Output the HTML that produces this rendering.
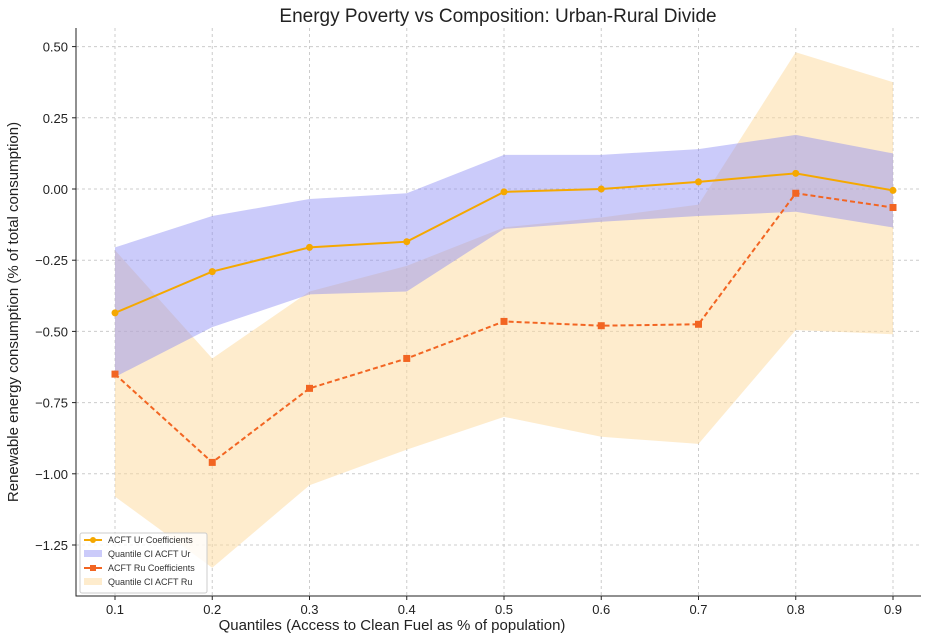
<!DOCTYPE html>
<html><head><meta charset="utf-8"><style>
body{margin:0;background:#fff;font-family:"Liberation Sans","DejaVu Sans",sans-serif}
</style></head><body>
<svg id="chart" width="936" height="637" xmlns="http://www.w3.org/2000/svg">
<text x="498" y="22" text-anchor="middle" font-size="19" fill="#222">Energy Poverty vs Composition: Urban-Rural Divide</text>
<g id="grid"></g><g id="bands"></g><g id="lines"></g><g id="axes"></g>
<text x="392" y="630" text-anchor="middle" font-size="15" fill="#222">Quantiles (Access to Clean Fuel as % of population)</text>
<text transform="translate(18,312) rotate(-90)" text-anchor="middle" font-size="15" fill="#222">Renewable energy consumption (% of total consumption)</text>
<g font-size="9" fill="#333">
<rect x="80" y="533" width="127" height="60" fill="#fff" fill-opacity="0.8" stroke="#ccc" rx="2"/>
<line x1="84" y1="540" x2="102" y2="540" stroke="#f5a800" stroke-width="2"/><circle cx="93" cy="540" r="3" fill="#f5a800"/>
<text x="108" y="543">ACFT Ur Coefficients</text>
<rect x="84" y="550" width="18" height="7" fill="#8c8cf5" fill-opacity="0.45"/>
<text x="108" y="557">Quantile CI ACFT Ur</text>
<line x1="84" y1="568" x2="102" y2="568" stroke="#f26522" stroke-width="2"/><rect x="90" y="565" width="6" height="6" fill="#f26522"/>
<text x="108" y="571">ACFT Ru Coefficients</text>
<rect x="84" y="578" width="18" height="7" fill="#fdd99b" fill-opacity="0.5"/>
<text x="108" y="585">Quantile CI ACFT Ru</text>
</g>
</svg>
<script>
const quantiles=[0.1,0.2,0.3,0.4,0.5,0.6,0.7,0.8,0.9];
const urCoef=[-0.435,-0.29,-0.205,-0.185,-0.01,0.0,0.025,0.055,-0.005];
const urUpper=[-0.205,-0.095,-0.035,-0.015,0.12,0.12,0.14,0.19,0.125];
const urLower=[-0.66,-0.485,-0.37,-0.36,-0.14,-0.115,-0.095,-0.08,-0.135];
const ruCoef=[-0.65,-0.96,-0.70,-0.595,-0.465,-0.48,-0.475,-0.015,-0.065];
const ruUpper=[-0.215,-0.595,-0.36,-0.27,-0.135,-0.10,-0.055,0.48,0.375];
const ruLower=[-1.08,-1.33,-1.04,-0.915,-0.80,-0.87,-0.895,-0.495,-0.51];
const yTicks=[0.5,0.25,0,-0.25,-0.5,-0.75,-1.0,-1.25];
const yTickLabels=["0.50","0.25","0.00","−0.25","−0.50","−0.75","−1.00","−1.25"];
const xTickLabels=["0.1","0.2","0.3","0.4","0.5","0.6","0.7","0.8","0.9"];
const L=76,R=921,T=28,B=596;
const X=v=>115+(v-0.1)*972.5;
const Y=v=>189-v*284.8;
const NS="http://www.w3.org/2000/svg";
function mk(p,tag,a){const e=document.createElementNS(NS,tag);for(const k in a)e.setAttribute(k,a[k]);document.getElementById(p).appendChild(e);return e;}
quantiles.forEach((q,i)=>{
 const g=mk('grid','line',{x1:X(q),x2:X(q),y1:T,y2:B,stroke:'#ccc','stroke-dasharray':'3,3'});
 
 
 const t=mk('axes','text',{x:X(q),y:B+18,'text-anchor':'middle','font-size':13,fill:'#222'});t.textContent=xTickLabels[i];
 
 
 mk('axes','line',{x1:X(q),x2:X(q),y1:B,y2:B+4,stroke:'#222'});
});
yTicks.forEach((v,i)=>{
 const g=mk('grid','line',{x1:L,x2:R,y1:Y(v),y2:Y(v),stroke:'#ccc','stroke-dasharray':'3,3'});
 
 
 const t=mk('axes','text',{x:L-8,y:Y(v)+5,'text-anchor':'end','font-size':13,fill:'#222'});t.textContent=yTickLabels[i];
 
 
 mk('axes','line',{x1:L-4,x2:L,y1:Y(v),y2:Y(v),stroke:'#222'});
});
mk('axes','path',{d:`M${L},${T}V${B}H${R}`,fill:'none',stroke:'#222'});
function band(up,lo,fill,op,name){
 let d='M'+quantiles.map((q,i)=>X(q)+','+Y(up[i])).join('L');
 d+='L'+quantiles.map((q,i)=>X(q)+','+Y(lo[i])).reverse().join('L')+'Z';
 const p=mk('bands','path',{d,fill,'fill-opacity':op});
 
 
}
band(ruUpper,ruLower,'#fdd99b',0.5,'ru-ci-band');
band(urUpper,urLower,'#8c8cf5',0.45,'ur-ci-band');
function line(vals,col,dash,name,sq){
 const p=mk('lines','polyline',{points:quantiles.map((q,i)=>X(q)+','+Y(vals[i])).join(' '),fill:'none',stroke:col,'stroke-width':2,'stroke-dasharray':dash});
 
 
 quantiles.forEach((q,i)=>{
  const m=sq?mk('lines','rect',{x:X(q)-3.5,y:Y(vals[i])-3.5,width:7,height:7,fill:col}):mk('lines','circle',{cx:X(q),cy:Y(vals[i]),r:3.5,fill:col});
  
  
 });
}
line(urCoef,'#f5a800','none','ur-coefficient-line',false);
line(ruCoef,'#f26522','5,3','ru-coefficient-line',true);
</script>
</body></html>
